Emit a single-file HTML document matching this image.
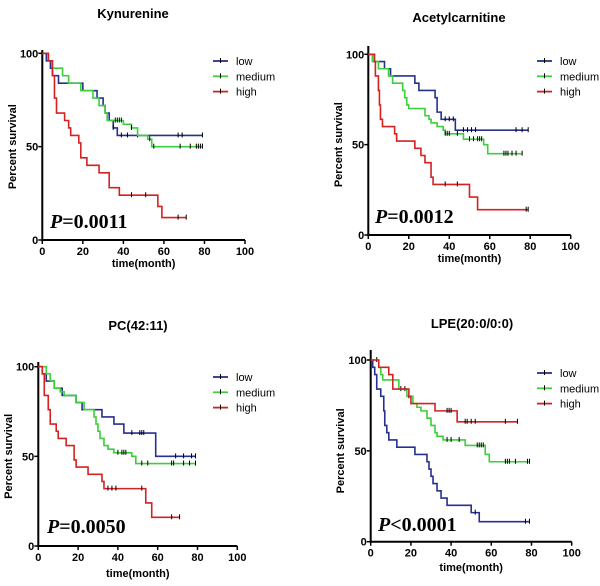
<!DOCTYPE html>
<html><head><meta charset="utf-8"><style>
html,body{margin:0;padding:0;background:#fff;}
svg{display:block;font-family:"Liberation Sans",Arial,sans-serif;}
</style></head><body>
<svg id="chart" width="600" height="586" viewBox="0 0 600 586" xmlns="http://www.w3.org/2000/svg"></svg>
<script>
// ---- data (percent survival step functions) ----
const groups = ["low","medium","high"];
const xTicks = [0,20,40,60,80,100];
const yTicks = [0,50,100];
const titles = ["Kynurenine","Acetylcarnitine","PC(42:11)","LPE(20:0/0:0)"];
const pLabels = ["=0.0011","=0.0012","=0.0050","<0.0001"];

// Kynurenine
const kynLowT = [0,2,4,5,8,20,27,30,31,33,35,37];
const kynLowS = [100,96,92,88,84,80,76,72,68,64,60,56];
const kynLowC = [35,39,42,47,67,69,79];
const kynMedT = [0,3,5,10,13,19,25,28,31,32,40,44,47,52,54];
const kynMedS = [100,96,92,88,84,80,76,72,68,64,62,60,56,54,50];
const kynMedC = [36,37,38,39,44,53,55,68,73,76,77,78,79];
const kynHighT = [0,3,5,6,7,11,13,14,18,19,22,28,33,38,57,59];
const kynHighS = [100,96,88,76,68,64,60,56,52,44,40,36,28,24,18,12];
const kynHighC = [44,51,67,71];

// Acetylcarnitine
const aceLowT = [0,3,8,11,23,25,33,34,36,43];
const aceLowS = [100,96,92,88,84,80,76,68,64,58];
const aceLowC = [38,40,42,47,49,51,53,73,76,79];
const aceMedT = [0,2,5,10,12,17,18,19,20,28,30,31,34,37,38,47,57,59];
const aceMedS = [100,96,92,88,84,80,76,72,70,66,64,62,60,58,56,53,50,45];
const aceMedC = [38,39,40,44,50,52,54,55,56,67,68,69,71,73,76];
const aceHighT = [0,3,3.5,5,5.5,6,7,13,14,23,26,28,31,32,50,54];
const aceHighS = [100,96,88,80,72,64,60,56,52,48,44,40,32,28,21,14];
const aceHighC = [38,44,78,79];

// PC(42:11)
const pcLowT = [0,2,4,8,12,19,22,32,38,43,59];
const pcLowS = [100,96,92,88,84,80,76,72,68,63,50];
const pcLowC = [47,51,52,53,69,73,77,79];
const pcMedT = [0,4,6,8,11,13,19,23,28,29,30,31,33,35,38,47,49];
const pcMedS = [100,96,92,88,86,84,80,76,72,68,64,60,56,54,52,50,46];
const pcMedC = [40,42,43,44,52,55,67,68,73,76,79];
const pcHighT = [0,2,3,5,6,9,10,14,18,19,25,32,33,54,57];
const pcHighS = [100,96,84,76,68,64,60,56,48,44,40,36,32,24,16];
const pcHighC = [35,37,39,52,67,71];

// LPE(20:0/0:0)
const lpeLowT = [0,1,2,3,5,6.5,7,8,9,13,22,28,29,30,31,33,35,38,50,54];
const lpeLowS = [100,96,92,84,80,72,64,60,56,52,48,44,40,36,32,28,24,20,16,11];
const lpeLowC = [52,77,79];
const lpeMedT = [0,4,5,6,14,18,21,23,25,28,30,32,33,36,47,57,59];
const lpeMedS = [100,96,92,89,84,80,76,74,72,68,64,60,58,56,53,48,44];
const lpeMedC = [3,15,17,19,38,40,44,53,54,55,56,67,68,69,72,78,79];
const lpeHighT = [0,4,9,11,19,20,32,43];
const lpeHighS = [100,96,92,84,80,76,72,66];
const lpeHighC = [38,39,40,47,48,50,52,67,73];

const panelData = [
  [[kynLowT,kynLowS,kynLowC],[kynMedT,kynMedS,kynMedC],[kynHighT,kynHighS,kynHighC]],
  [[aceLowT,aceLowS,aceLowC],[aceMedT,aceMedS,aceMedC],[aceHighT,aceHighS,aceHighC]],
  [[pcLowT,pcLowS,pcLowC],[pcMedT,pcMedS,pcMedC],[pcHighT,pcHighS,pcHighC]],
  [[lpeLowT,lpeLowS,lpeLowC],[lpeMedT,lpeMedS,lpeMedC],[lpeHighT,lpeHighS,lpeHighC]]
];
const maxT = [[79,79,71],[79,76,79],[79,79,71],[79,79,73]];

// ---- layout ----
const geom = [
  {x0:42.3,x1:245,y0:240,y1:53.3,tx:133,ty:18,lx:213,ly:61,px:50,py:228,xl:267,yl:12,top:50},
  {x0:368.3,x1:570.7,y0:235,y1:54.3,tx:459,ty:22,lx:537,ly:61,px:375,py:223,xl:262,yl:338,top:46},
  {x0:38.3,x1:237.3,y0:546,y1:366.7,tx:138,ty:330,lx:213,ly:377,px:47,py:533,xl:577,yl:8,top:362},
  {x0:370.7,x1:571.7,y0:541.7,y1:360,tx:472,ty:328,lx:537,ly:373,px:378,py:531,xl:571,yl:340,top:350}
];
const colors = ["#26308f","#3ccf3c","#d42222"];
const NS = "http://www.w3.org/2000/svg";
const svg = document.getElementById("chart");
function mk(tag, attrs, parent){
  const e = document.createElementNS(NS, tag);
  for (const k in attrs) e.setAttribute(k, attrs[k]);
  (parent||svg).appendChild(e);
  return e;
}
function survAt(T,S,t){let s=S[0];for(let i=0;i<T.length;i++){if(T[i]<=t)s=S[i];}return s;}

geom.forEach((g,pi)=>{
  const xs = t => g.x0 + (g.x1-g.x0)*t/100;
  const ys = v => g.y0 + (g.y1-g.y0)*v/100;
  const grp = mk("g",{});
  
  
  const title = mk("text",{x:g.tx,y:g.ty,"text-anchor":"middle","font-size":"13","font-weight":"bold"},grp);
  title.textContent = titles[pi];
  
  
  // axes
  const ax = mk("path",{d:`M${g.x0},${g.top}V${g.y0}H${g.x1}`,stroke:"#000","stroke-width":"2",fill:"none"},grp);
  
  
  xTicks.forEach(v=>{
    mk("line",{x1:xs(v),x2:xs(v),y1:g.y0,y2:g.y0+4,stroke:"#000","stroke-width":"1.5"},grp);
    const t = mk("text",{x:xs(v),y:g.y0+15,"text-anchor":"middle","font-size":"11","font-weight":"bold"},grp);
    t.textContent = v;
    
    
  });
  yTicks.forEach(v=>{
    mk("line",{x1:g.x0-4,x2:g.x0,y1:ys(v),y2:ys(v),stroke:"#000","stroke-width":"1.5"},grp);
    const t = mk("text",{x:g.x0-4,y:ys(v)+4,"text-anchor":"end","font-size":"11","font-weight":"bold"},grp);
    t.textContent = v;
    
    
  });
  const xt = mk("text",{x:(g.x0+xs(80))/2+ (xs(100)-xs(80))*0.5,y:g.xl,"text-anchor":"middle","font-size":"11","font-weight":"bold"},grp);
  xt.textContent = "time(month)";
  
  
  const ym = (g.y0+g.y1)/2;
  const yt = mk("text",{x:g.yl+4,y:ym,"text-anchor":"middle","font-size":"11","font-weight":"bold",transform:`rotate(-90 ${g.yl+4} ${ym})`},grp);
  yt.textContent = "Percent survival";
  
  
  // series
  panelData[pi].forEach((ser,si)=>{
    const [T,S,C] = ser;
    let d = `M${xs(T[0])},${ys(S[0])}`;
    for(let i=1;i<T.length;i++){ d += `H${xs(T[i])}V${ys(S[i])}`; }
    d += `H${xs(maxT[pi][si])}`;
    const p = mk("path",{d:d,stroke:colors[si],"stroke-width":"1.6",fill:"none"},grp);
    
    
    C.forEach(c=>{
      const yy = ys(survAt(T,S,c));
      const m = mk("line",{x1:xs(c),x2:xs(c),y1:yy-3,y2:yy+2,stroke:"#000","stroke-width":"1"},grp);
      
      
    });
    // legend
    const ly = g.ly + si*15.3;
    const lg = mk("g",{},grp);
    
    
    mk("line",{x1:g.lx,x2:g.lx+15,y1:ly,y2:ly,stroke:colors[si],"stroke-width":"1.8"},lg);
    mk("line",{x1:g.lx+7.5,x2:g.lx+7.5,y1:ly-3,y2:ly+2,stroke:"#000","stroke-width":"1"},lg);
    const lt = mk("text",{x:g.lx+23,y:ly+4,"font-size":"11"},lg);
    lt.textContent = groups[si];
  });
  const pt = mk("text",{x:g.px,y:g.py,"font-size":"20","font-weight":"bold","font-family":"Liberation Serif, serif"},grp);
  
  
  const pi1 = mk("tspan",{"font-style":"italic"},pt); pi1.textContent = "P";
  const pi2 = mk("tspan",{},pt); pi2.textContent = pLabels[pi];
});
</script>
</body></html>
